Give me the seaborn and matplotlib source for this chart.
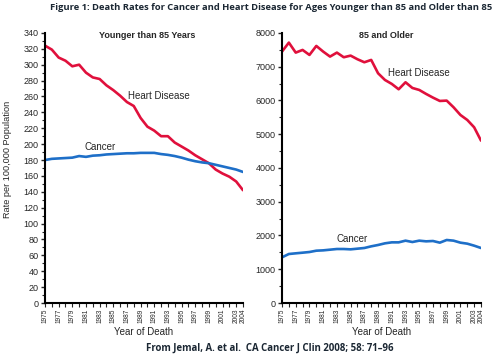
import numpy as np
import pandas as pd
import matplotlib
matplotlib.use("Agg")
import matplotlib.pyplot as plt
import seaborn as sns
from matplotlib.ticker import MultipleLocator

years = list(range(1975, 2005))

# under 85, rate per 100,000
heart_young = [324, 319, 309, 305, 298, 300, 290, 284, 282, 274, 268, 261, 253, 248, 233,
               222, 217, 210, 210, 202, 197, 192, 186, 181, 176, 168, 163, 159, 153, 142]
cancer_young = [180, 181.5, 182, 182.5, 183, 185, 184, 185.5, 186, 187, 187.5, 188, 188.5,
                188.5, 189, 189, 189, 187.5, 186.5, 185, 183, 180.5, 178.5, 177, 176, 174,
                172, 170, 168, 165]

# 85 and older
heart_old = [7447, 7713, 7417, 7496, 7348, 7615, 7447, 7299, 7417, 7279, 7328, 7220, 7131,
             7200, 6805, 6607, 6489, 6331, 6538, 6370, 6311, 6193, 6084, 5985, 5995, 5798,
             5570, 5422, 5205, 4810]
cancer_old = [1353, 1452, 1472, 1491, 1511, 1550, 1560, 1580, 1600, 1600, 1590, 1610, 1630,
              1679, 1719, 1768, 1797, 1797, 1847, 1807, 1847, 1827, 1837, 1788, 1867, 1847,
              1788, 1758, 1699, 1630]

tick_labels = [str(y) if (y % 2 == 1 or y == 2004) else "" for y in years]

RED = "#e0103c"
BLUE = "#1e6fc8"
DARK = "#1b2733"

sns.set_style("ticks")
plt.rcParams['font.family'] = ['Liberation Sans', 'DejaVu Sans']

fig = plt.figure(figsize=(5, 3.54), dpi=100)
ax1 = fig.add_axes([0.09, 0.144, 0.396, 0.763])
ax2 = fig.add_axes([0.564, 0.144, 0.398, 0.763])

df_young = pd.DataFrame({"year": years, "Heart Disease": heart_young, "Cancer": cancer_young})
df_old = pd.DataFrame({"year": years, "Heart Disease": heart_old, "Cancer": cancer_old})


def draw(ax, df, ymax, major, minor, title, title_x, hd_pos, ca_pos):
    sns.lineplot(data=df, x="year", y="Heart Disease", ax=ax, color=RED, linewidth=1.9)
    sns.lineplot(data=df, x="year", y="Cancer", ax=ax, color=BLUE, linewidth=1.9)
    ax.set_xlim(1975, 2004)
    ax.set_ylim(0, ymax)
    ax.set_xticks(years)
    ax.set_xticklabels(tick_labels, rotation=90, fontsize=4.7)
    ax.yaxis.set_major_locator(MultipleLocator(major))
    ax.yaxis.set_minor_locator(MultipleLocator(minor))
    ax.tick_params(axis="y", labelsize=6.5, length=3, width=1, pad=1.5)
    ax.tick_params(axis="y", which="minor", length=2, width=0.8)
    ax.tick_params(axis="x", length=3, width=0.8, pad=1)
    for s in ["top", "right"]:
        ax.spines[s].set_visible(False)
    for s in ["left", "bottom"]:
        ax.spines[s].set_linewidth(1.5)
        ax.spines[s].set_color("black")
    ax.set_xlabel("Year of Death", fontsize=7, labelpad=3)
    ax.set_ylabel("")
    ax.text(title_x, 0.99, title, transform=ax.transAxes, ha="center", va="center",
            fontsize=6.5, fontweight="bold")
    ax.text(hd_pos[0], hd_pos[1], "Heart Disease", fontsize=7, ha="left", va="center")
    ax.text(ca_pos[0], ca_pos[1], "Cancer", fontsize=7, ha="left", va="center")


draw(ax1, df_young, 340, 20, 10, "Younger than 85 Years", 0.515, (1987.1, 261), (1980.8, 196.5))
draw(ax2, df_old, 8000, 1000, 500, "85 and Older", 0.523, (1990.4, 6824), (1983.0, 1896))

fig.text(0.015, 0.549, "Rate per 100,000 Population", rotation=90, fontsize=6.6,
         ha="center", va="center")

fig.text(0.543, 0.98, "Figure 1: Death Rates for Cancer and Heart Disease for Ages Younger than 85 and Older than 85",
         ha="center", va="center", fontsize=6.75, fontweight="bold", color=DARK,
         family=["Open Sans", "DejaVu Sans"])
fig.text(0.54, 0.017, "From Jemal, A. et al.  CA Cancer J Clin 2008; 58: 71\u201396",
         ha="center", va="center", fontsize=6.9, fontweight="bold", color=DARK,
         family=["Open Sans", "DejaVu Sans"])

fig.savefig("out.png", dpi=100)
